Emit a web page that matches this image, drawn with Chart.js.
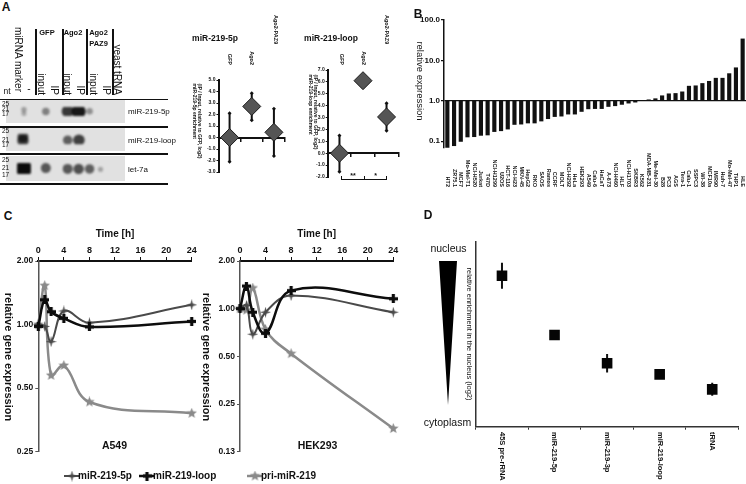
<!DOCTYPE html>
<html lang="en">
<head>
<meta charset="UTF-8">
<title>miR-219 figure</title>
<style>
  body { margin: 0; background: #fff; }
  #fig { position: relative; width: 746px; height: 484px; overflow: hidden; background: #fff;
         font-family: "Liberation Sans", Arial, sans-serif; color: #111; }
  #fig canvas { position: absolute; }
  .lbl { position: absolute; white-space: pre; line-height: 1.15; }
  .vert { writing-mode: vertical-rl; }
  .rule { position: absolute; background: #111; }
  .strip { position: absolute; background: #e1e1e1; }
</style>
</head>
<body>
<div id="fig"></div>
<script src="https://cdn.jsdelivr.net/npm/chart.js"></script>
<script>
// ---- panel A: northern blot bands (lane index, band size in nt, intensity 0..1)
const blotLanes = ['miRNA marker', '-', 'input', 'IP', 'input', 'IP', 'input', 'IP', 'yeast tRNA'];
const band5pLane = [0, 0, 2, 4, 5, 6];
const band5pNt = [24, 18, 21, 21.5, 21, 21.5];
const band5pInt = [0.15, 0.1, 0.35, 0.8, 1.0, 0.25];
const bandLoopLane = [0, 0, 4, 5];
const bandLoopNt = [24, 19, 19.5, 19.5];
const bandLoopInt = [0.7, 0.75, 0.55, 0.75];
const bandLet7Lane = [0, 0, 0, 2, 4, 5, 6, 7];
const bandLet7Nt = [24.5, 21, 17.5, 21.5, 20.5, 20.5, 20.5, 20];
const bandLet7Int = [1, 1, 1, 0.6, 0.6, 0.65, 0.55, 0.12];

// ---- panel A: IP enrichment (log2)
const ipGroups = ['GFP', 'Ago2', 'Ago2-PAZ9'];
const enrich5p = [0, 2.7, 0.45];
const enrich5pLo = [-2.1, 1.5, -1.6];
const enrich5pHi = [2.1, 3.85, 2.5];
const enrichLoop = [0, 6.1, 3.05];
const enrichLoopLo = [-1.55, 5.8, 1.9];
const enrichLoopHi = [1.5, 6.3, 4.2];

// ---- panel B: relative expression per cell line
const cellLines = ['HT2', 'ZR75.1', 'MCF7', 'Mo-Mel-T1', 'NCI-H520', 'Jurkat', 'T47D', 'NCI-H1299', 'U2OS',
  'HCT-116', 'NCI-H23', 'MKN-45', 'HepG2', 'RKO', 'SAOS', 'Ramos', 'CCRF', 'MOLT', 'NCI-H292', 'HeLa',
  'HEK293', 'A549', 'Calu-6', 'HaCaT', 'A-673', 'NCI-H460', 'HLF', 'NCI-H1703', 'SKBR3', 'K562',
  'MDA-MB-231', 'Me-Mel-30', 'B28', 'PC3', 'AGS', 'Tera-1', 'Calu-1', 'SSPC3', 'WI-38', 'MCF10a',
  'IMR90', 'Huh-7', 'Mo-Mel-47', 'THP1', 'HLE'];
const relExpr = [0.069, 0.076, 0.097, 0.125, 0.127, 0.137, 0.14, 0.17, 0.178, 0.196, 0.255, 0.26, 0.277,
  0.277, 0.31, 0.354, 0.40, 0.41, 0.46, 0.46, 0.535, 0.62, 0.63, 0.63, 0.71, 0.74, 0.80, 0.86, 0.91,
  1.04, 1.08, 1.15, 1.36, 1.52, 1.55, 1.70, 2.35, 2.4, 2.74, 3.1, 3.7, 3.7, 4.8, 6.7, 34.7];
const relTicks = [0.1, 1, 10, 100];

// ---- panel C: time course
const hours = [0, 1, 2, 4, 8, 24];
const a549_5p = [1.0, 0.98, 0.83, 1.16, 1.02, 1.24];
const a549_loop = [0.98, 1.31, 1.15, 1.07, 0.975, 1.035];
const a549_pri = [1.0, 1.53, 0.575, 0.64, 0.43, 0.38];
const hek_5p = [1.0, 1.05, 0.69, 0.95, 1.21, 0.95];
const hek_loop = [1.0, 1.39, 0.95, 0.70, 1.30, 1.155];
const hek_pri = [1.0, 0.98, 1.35, 0.74, 0.52, 0.175];
const a549Ticks = [0.25, 0.5, 1, 2];
const hekTicks = [0.125, 0.25, 0.5, 1, 2];

// ---- panel D: nuclear enrichment
const fractions = ['45S pre-rRNA', 'miR-219-5p', 'miR-219-3p', 'miR-219-loop', 'tRNA'];
const nucEnrich = [8.16, 4.96, 3.43, 2.83, 2.02];
const nucErr = [0.7, 0.15, 0.5, 0.1, 0.35];

const FONT = '"Liberation Sans", Arial, sans-serif';
Chart.defaults.font.family = FONT;
Chart.defaults.color = '#111';
Chart.defaults.animation = false;
Chart.defaults.responsive = false;
Chart.defaults.devicePixelRatio = 1;
Chart.defaults.plugins.legend.display = false;
Chart.defaults.plugins.tooltip.enabled = false;

const fig = document.getElementById('fig');

// category labels turned 90deg clockwise, under the x axis
Chart.register({
  id: 'vLabels',
  afterDraw(chart, args, o) {
    if (!o || !o.labels) return;
    const { ctx, chartArea } = chart;
    const xs = chart.scales.x;
    ctx.save();
    ctx.font = o.font;
    ctx.fillStyle = '#111';
    ctx.textBaseline = 'middle';
    ctx.textAlign = o.align === 'bottom' ? 'right' : 'left';
    o.labels.forEach((lab, i) => {
      ctx.save();
      ctx.translate(xs.getPixelForValue(o.half ? i + 0.5 : i), chartArea.bottom + o.offset);
      ctx.rotate(Math.PI / 2);
      ctx.fillText(lab, 0, 0);
      ctx.restore();
    });
    ctx.restore();
  }
});

function makeCanvas(left, top, w, h) {
  const c = document.createElement('canvas');
  c.width = w; c.height = h;
  c.style.left = left + 'px'; c.style.top = top + 'px';
  fig.appendChild(c);
  return c;
}

const shift = { c: [-50, -50], lm: [0, -50], rm: [-100, -50], ct: [-50, 0], cb: [-50, -100] };
function put(text, x, y, size, bold, vertical, anchor) {
  const d = document.createElement('div');
  d.className = 'lbl' + (vertical ? ' vert' : '');
  d.textContent = text;
  d.style.left = x + 'px'; d.style.top = y + 'px';
  d.style.fontSize = size + 'px';
  d.style.fontWeight = bold ? 'bold' : 'normal';
  const s = shift[anchor || 'c'];
  d.style.transform = `translate(${s[0]}%, ${s[1]}%)`;
  fig.appendChild(d);
}
function rule(x, y, w, h, cls) {
  const d = document.createElement('div');
  d.className = cls || 'rule';
  Object.assign(d.style, { left: x + 'px', top: y + 'px', width: w + 'px', height: h + 'px' });
  fig.appendChild(d);
  return d;
}

function errorSets(xs, lo, hi, width, cap) {
  return xs.map((x, i) => ({
    data: [{ x, y: lo[i] }, { x, y: hi[i] }],
    showLine: true, borderColor: '#111', borderWidth: width,
    pointStyle: 'rectRot', pointRadius: cap, pointBackgroundColor: '#111', pointBorderWidth: 0,
    order: 2
  }));
}

// ================= panel A: blot =================
rule(0, 98.5, 168, 1.5);
rule(0, 126, 168, 1.5);
rule(0, 153.3, 168, 1.5);
rule(0, 183.3, 168, 1.5);
[35, 62, 86, 112].forEach(x => rule(x, 29, 1.5, 66));

function blotChart(top, h, lanes, nts, ints) {
  rule(6, top, 119, h, 'strip');
  const c = makeCanvas(6, top, 119, h);
  c.style.filter = 'blur(1px)';
  new Chart(c, {
    type: 'bubble',
    data: { datasets: [{
      data: lanes.map((l, i) => ({ x: l, y: nts[i], r: 2 + 5 * ints[i] })),
      backgroundColor: ints.map(v => `rgba(12,12,12,${0.2 + 0.75 * v})`),
      borderWidth: 0
    }] },
    options: { scales: { x: { display: false, min: -1, max: 8.6 }, y: { display: false, min: 14, max: 28 } } }
  });
}
blotChart(100, 23, band5pLane, band5pNt, band5pInt);
blotChart(128, 22.5, bandLoopLane, bandLoopNt, bandLoopInt);
blotChart(155.5, 25, bandLet7Lane, bandLet7Nt, bandLet7Int);

put('A', 6, 8, 12, true);
put('nt', 7, 92, 8.5);
put(blotLanes[0], 18, 27, 10, false, true, 'ct');
put(blotLanes[1], 29, 89, 10);
[41, 54, 67, 80, 93, 106].forEach((x, i) => put(blotLanes[i + 2], x, 95, 10, false, true, 'cb'));
put(blotLanes[8], 117, 95, 10, false, true, 'cb');
put('GFP', 47, 33, 7.5, true);
put('Ago2', 73, 33, 7.5, true);
put('Ago2', 98.5, 33, 7.5, true);
put('PAZ9', 98.5, 44, 7.5, true);
put('miR-219-5p', 128, 112, 8, false, false, 'lm');
put('miR-219-loop', 128, 141, 8, false, false, 'lm');
put('let-7a', 128, 170, 8, false, false, 'lm');
[[104, 109, 114], [131, 140, 145], [160, 168, 175]].forEach(ys =>
  ['25', '21', '17'].forEach((t, i) => put(t, 2, ys[i], 6.5, false, false, 'lm')));

// ================= panel A: enrichment =================
function enrichChart(left, top, w, h, yW, pad, yMin, yMax, vals, lo, hi) {
  const xs = vals.map((v, i) => i + 0.5);
  new Chart(makeCanvas(left, top, w, h), {
    type: 'scatter',
    data: { datasets: [
      ...errorSets(xs, lo, hi, 2, 2),
      { data: xs.map((x, i) => ({ x, y: vals[i] })), pointStyle: 'rectRot', pointRadius: 9,
        backgroundColor: '#555', borderColor: '#1a1a1a', borderWidth: 1, order: 1 }
    ] },
    options: {
      layout: { padding: pad },
      scales: {
        x: { type: 'linear', min: 0, max: 3, position: { y: 0 },
             ticks: { display: false, stepSize: 1 },
             grid: { drawOnChartArea: false, tickLength: 3, color: '#111', lineWidth: 1.5 },
             border: { color: '#111', width: 2 } },
        y: { min: yMin, max: yMax,
             ticks: { stepSize: 1, callback: v => v.toFixed(1), font: { size: 5, weight: 'bold' }, padding: 1 },
             grid: { drawOnChartArea: false, tickLength: 2, color: '#111' },
             border: { color: '#111', width: 2 },
             afterFit: s => { s.width = yW; } }
      }
    }
  });
}
enrichChart(180, 70, 115, 115, 38.5, { top: 10, right: 7.5, bottom: 13 }, -3, 5, enrich5p, enrich5pLo, enrich5pHi);
enrichChart(290, 60, 120, 130, 37.7, { top: 9, right: 11.7, bottom: 13 }, -2, 7, enrichLoop, enrichLoopLo, enrichLoopHi);

put('miR-219-5p', 215, 39, 8.5, true);
put('miR-219-loop', 331, 39, 8.5, true);
[[230, 252, 276], [341.7, 364.3, 386.7]].forEach(xs => {
  put(ipGroups[0], xs[0], 65, 5.5, true, true, 'cb');
  put(ipGroups[1], xs[1], 65, 5.5, true, true, 'cb');
  put(ipGroups[2], xs[2], 15, 5.5, true, true, 'ct');
});
put('(IP / Input, relative to GFP, log2)\nmiR-219-5p enrichment', 196.5, 121, 5, true, true);
put('(IP / Input, relative to GFP, log2)\nmiR-219-loop enrichment', 312.5, 112, 5, true, true);
rule(341.7, 178.8, 45, 1);
[341.2, 363.8, 386.2].forEach(x => rule(x, 176, 1, 3.5));
put('**', 353, 175.5, 7, true);
put('*', 375.7, 175.5, 7, true);

// ================= panel B =================
new Chart(makeCanvas(395, 0, 351, 200), {
  type: 'bar',
  data: { labels: cellLines, datasets: [{
    data: relExpr.map(v => [1, v]), backgroundColor: '#111', barPercentage: 0.62, categoryPercentage: 1
  }] },
  options: {
    layout: { padding: { top: 20 } },
    scales: {
      x: { ticks: { display: false }, grid: { display: false }, border: { display: false },
           afterFit: s => { s.height = 52; } },
      y: { type: 'logarithmic', min: 0.068, max: 100,
           afterBuildTicks: s => { s.ticks = relTicks.map(v => ({ value: v })); },
           ticks: { callback: v => Number(v).toFixed(1), font: { size: 8, weight: 'bold' }, padding: 1 },
           grid: { color: c => (c.tick && c.tick.value === 1 ? '#111' : 'rgba(0,0,0,0)'),
                   tickColor: '#111', tickLength: 3, lineWidth: 1.2 },
           border: { color: '#111', width: 1.5 },
           afterFit: s => { s.width = 49; } }
    },
    plugins: { vLabels: { labels: cellLines, offset: 39, align: 'bottom', font: 'bold 5.5px ' + FONT } }
  }
});
put('B', 418, 15, 12, true);
put('relative expression', 420, 81, 9.5, false, true);

// ================= panel C =================
function marker(size, draw) {
  const c = document.createElement('canvas');
  c.width = c.height = size;
  draw(c.getContext('2d'), size / 2);
  return c;
}
function starPath(g, c, n, ro, ri) {
  g.beginPath();
  for (let k = 0; k < 2 * n; k++) {
    const r = k % 2 ? ri : ro, a = -Math.PI / 2 + k * Math.PI / n;
    g.lineTo(c + r * Math.cos(a), c + r * Math.sin(a));
  }
  g.closePath();
  g.fill();
}
const mk5p = marker(11, (g, c) => { g.fillStyle = '#4a4a4a'; starPath(g, c, 4, 5.5, 1.6); });
const mkLoop = marker(9, (g, c) => { g.fillStyle = '#0d0d0d'; g.fillRect(c - 1.6, 0, 3.2, 9); g.fillRect(0, c - 1.6, 9, 3.2); });
const mkPri = marker(11, (g, c) => { g.fillStyle = '#8a8a8a'; starPath(g, c, 5, 5.5, 2.4); });

const seriesStyle = [
  { color: '#8a8a8a', width: 2.5, mk: mkPri, order: 3 },
  { color: '#4a4a4a', width: 2, mk: mk5p, order: 2 },
  { color: '#0d0d0d', width: 2.5, mk: mkLoop, order: 1 }
];

function timeChart(left, yW, padR, yMin, yTicks, series) {
  new Chart(makeCanvas(left, 225, 200, 235), {
    type: 'line',
    data: { datasets: series.map((vals, k) => ({
      data: hours.map((h, i) => ({ x: h, y: vals[i] })),
      borderColor: seriesStyle[k].color, borderWidth: seriesStyle[k].width,
      pointStyle: seriesStyle[k].mk, pointRadius: 4, tension: 0.4, order: seriesStyle[k].order, clip: false
    })) },
    options: {
      layout: { padding: { right: padR, bottom: 8.3 } },
      scales: {
        x: { type: 'linear', position: 'top', min: 0, max: 24,
             ticks: { stepSize: 4, font: { size: 9, weight: 'bold' }, padding: 1 },
             title: { display: true, text: 'Time [h]', font: { size: 10, weight: 'bold' }, padding: { top: 3, bottom: 0 } },
             grid: { drawOnChartArea: false, tickLength: 4, color: '#111' },
             border: { color: '#111', width: 2 },
             afterFit: s => { s.height = 36; } },
        y: { type: 'logarithmic', min: yMin, max: 2,
             afterBuildTicks: s => { s.ticks = yTicks.map(v => ({ value: v })); },
             ticks: { callback: v => Number(v).toFixed(2), font: { size: 8.5, weight: 'bold' }, padding: 2 },
             grid: { drawOnChartArea: false, tickLength: 3, color: '#555' },
             border: { color: '#555', width: 1.5 },
             afterFit: s => { s.width = yW; } }
      }
    }
  });
}
timeChart(0, 38.3, 8.3, 0.25, a549Ticks, [a549_pri, a549_5p, a549_loop]);
timeChart(200, 40, 6.7, 0.125, hekTicks, [hek_pri, hek_5p, hek_loop]);

put('C', 8, 217, 12, true);
put('relative gene expression', 8.5, 357, 11, true, true);
put('relative gene expression', 207, 357, 11, true, true);
put('A549', 114.5, 445, 10.5, true);
put('HEK293', 317.5, 445, 10.5, true);

// legend
[['miR-219-5p', 72, seriesStyle[1]], ['miR-219-loop', 147, seriesStyle[2]], ['pri-miR-219', 255, seriesStyle[0]]]
  .forEach(([name, x, st]) => {
    const c = makeCanvas(x - 8, 470, 16, 12);
    const g = c.getContext('2d');
    g.strokeStyle = st.color; g.lineWidth = st.width;
    g.beginPath(); g.moveTo(0, 6); g.lineTo(16, 6); g.stroke();
    g.drawImage(st.mk, 8 - st.mk.width / 2, 6 - st.mk.height / 2);
    put(name, x + 6, 476, 10, true, false, 'lm');
  });

// ================= panel D =================
const fx = fractions.map((f, i) => i + 0.5);
new Chart(makeCanvas(440, 230, 306, 254), {
  type: 'scatter',
  data: { datasets: [
    ...errorSets(fx, nucEnrich.map((v, i) => v - nucErr[i]), nucEnrich.map((v, i) => v + nucErr[i]), 2, 0),
    { data: fx.map((x, i) => ({ x, y: nucEnrich[i] })), pointStyle: 'rect', pointRadius: 7.5,
      backgroundColor: '#050505', borderWidth: 0, order: 1 }
  ] },
  options: {
    layout: { padding: { top: 11.7, right: 0.3 } },
    scales: {
      x: { type: 'linear', min: 0, max: 5, ticks: { display: false, stepSize: 1 },
           grid: { drawOnChartArea: false, tickLength: 3, color: '#333' },
           border: { color: '#333', width: 1.5 },
           afterFit: s => { s.height = 57.3; } },
      y: { min: 0, max: 10, ticks: { display: false }, grid: { display: false },
           border: { color: '#333', width: 1.5 },
           afterFit: s => { s.width = 35.7; } }
    },
    plugins: { vLabels: { labels: fractions, offset: 5.3, align: 'top', half: true, font: 'bold 7.5px ' + FONT } }
  }
});
put('D', 428, 216, 12, true);
put('nucleus', 448.5, 248, 10.5);
put('cytoplasm', 447.5, 422, 10.5);
put('relative enrichment in the nucleus (log2)', 469, 334, 7.5, false, true);
const wedge = rule(439, 261, 18, 144);
wedge.style.background = '#000';
wedge.style.clipPath = 'polygon(0 0, 100% 0, 50% 100%)';
</script>
</body>
</html>
